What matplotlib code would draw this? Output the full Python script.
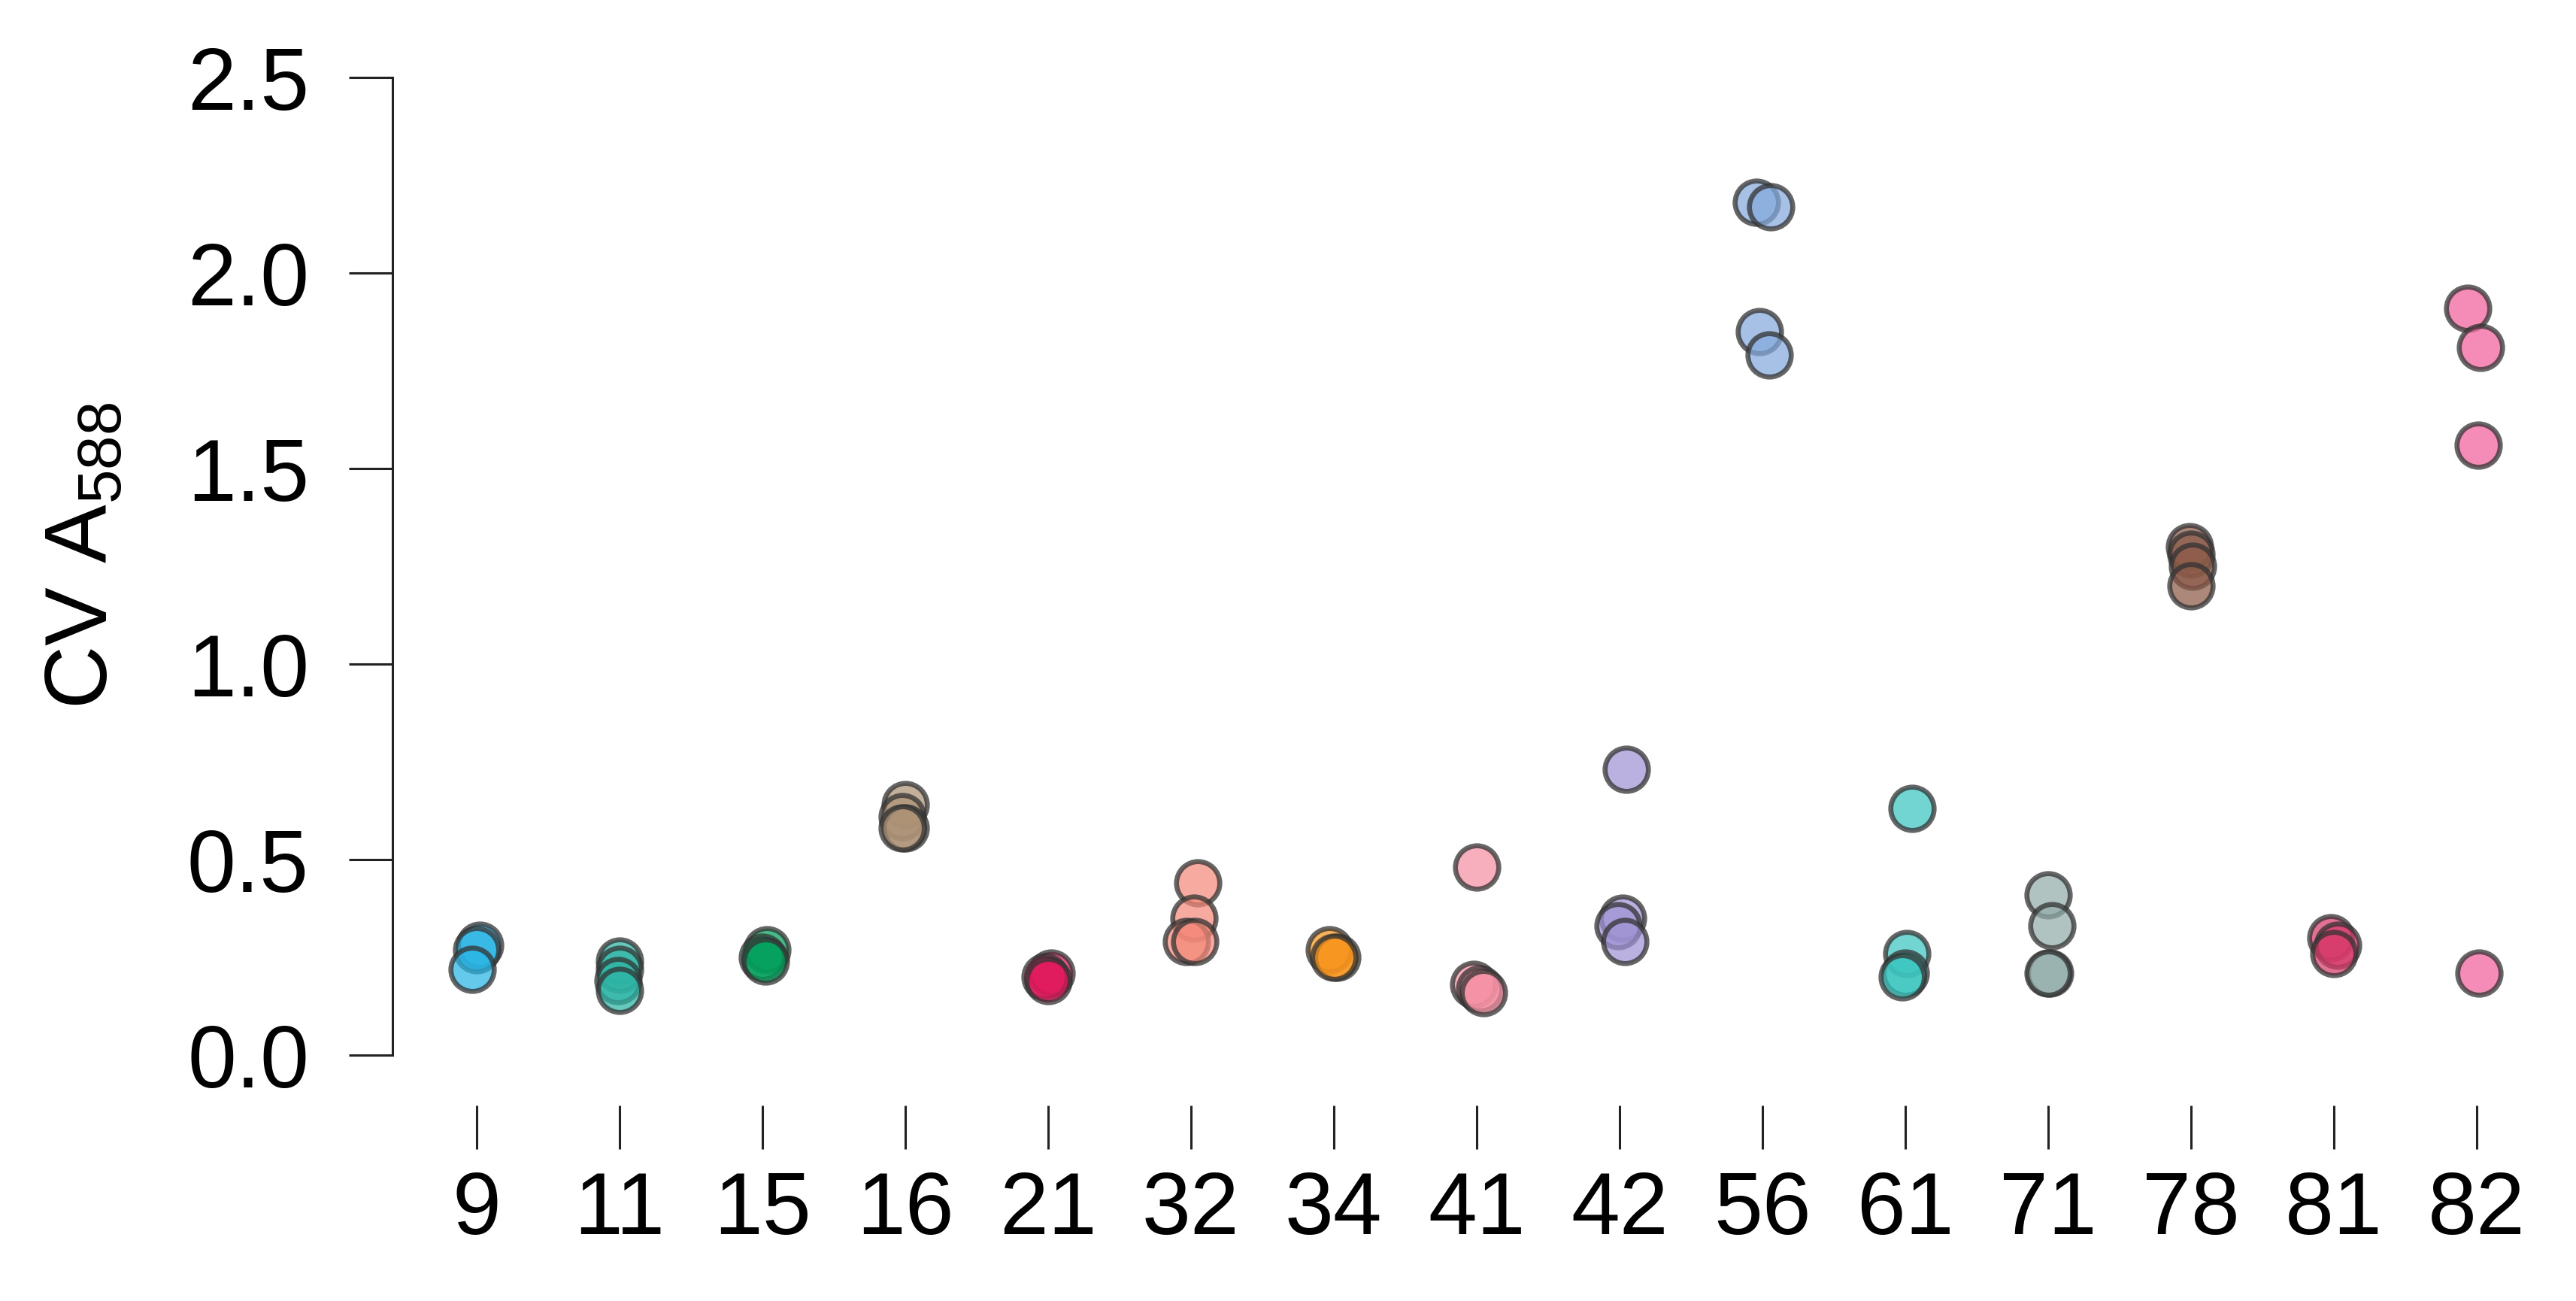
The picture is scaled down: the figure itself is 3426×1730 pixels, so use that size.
import numpy as np
import matplotlib.pyplot as plt
from matplotlib.colors import to_rgba

plt.rcParams['font.family'] = ['Liberation Sans', 'DejaVu Sans']
plt.rcParams['mathtext.fontset'] = 'custom'
plt.rcParams['mathtext.rm'] = 'Liberation Sans'

# sample ids along the x axis
samples = ['9', '11', '15', '16', '21', '32', '34', '41', '42', '56', '61', '71', '78', '81', '82']

# CV of A588 per sample (replicates)
cv_9 = [0.28, 0.27, 0.22]
cv_11 = [0.24, 0.22, 0.19, 0.165]
cv_15 = [0.27, 0.25, 0.24]
cv_16 = [0.64, 0.61, 0.58, 0.58]
cv_21 = [0.21, 0.20, 0.19]
cv_32 = [0.44, 0.35, 0.29, 0.29]
cv_34 = [0.27, 0.25, 0.25]
cv_41 = [0.48, 0.18, 0.17, 0.16]
cv_42 = [0.73, 0.35, 0.33, 0.29]
cv_56 = [2.18, 2.17, 1.85, 1.79]
cv_61 = [0.63, 0.26, 0.21, 0.20]
cv_71 = [0.41, 0.33, 0.21, 0.21]
cv_78 = [1.30, 1.28, 1.25, 1.20]
cv_81 = [0.30, 0.28, 0.26]
cv_82 = [1.91, 1.81, 1.56, 0.21]

# horizontal jitter (category units)
jit_9 = [0.02, 0.0, -0.03]
jit_11 = [0.0, 0.0, -0.01, 0.0]
jit_15 = [0.03, 0.0, 0.02]
jit_16 = [0.0, -0.02, 0.0, -0.02]
jit_21 = [0.02, -0.02, 0.0]
jit_32 = [0.05, 0.02, -0.03, 0.03]
jit_34 = [-0.03, 0.02, 0.0]
jit_41 = [0.0, -0.02, 0.02, 0.05]
jit_42 = [0.05, 0.02, -0.01, 0.04]
jit_56 = [-0.04, 0.06, -0.02, 0.05]
jit_61 = [0.05, 0.01, 0.0, -0.02]
jit_71 = [0.0, 0.03, 0.01, 0.0]
jit_78 = [-0.01, 0.0, 0.01, 0.0]
jit_81 = [-0.02, 0.03, 0.0]
jit_82 = [-0.06, 0.03, 0.01, 0.02]

colors = ['#29b4e4', '#2db5a5', '#02a05c', '#ad9276', '#e0185c', '#f4897a', '#f7941d',
          '#f590a4', '#a093d4', '#84aadc', '#3cc6c0', '#93adaa', '#8c5a48', '#d83a6a', '#f0609c']

values = [cv_9, cv_11, cv_15, cv_16, cv_21, cv_32, cv_34, cv_41, cv_42, cv_56,
          cv_61, cv_71, cv_78, cv_81, cv_82]
jitters = [jit_9, jit_11, jit_15, jit_16, jit_21, jit_32, jit_34, jit_41, jit_42, jit_56,
           jit_61, jit_71, jit_78, jit_81, jit_82]

W, H, DPI = 3426, 1730, 200
fig = plt.figure(figsize=(W / DPI, H / DPI), dpi=DPI)
ax = fig.add_axes([522 / W, 1 - 1470 / H, (3400 - 522) / W, (1470 - 77) / H])

edge = to_rgba('#333333', 0.75)
for i, (vals, jit, col) in enumerate(zip(values, jitters, colors)):
    x = i + np.array(jit)
    ax.scatter(x, vals, s=430, facecolor=to_rgba(col, 0.72), edgecolor=edge,
               linewidth=2.4, zorder=3)

ax.set_xlim(-0.589, 14.56)
ax.set_ylim(-0.1288, 2.55)

ax.spines['top'].set_visible(False)
ax.spines['right'].set_visible(False)
ax.spines['bottom'].set_visible(False)
ax.spines['left'].set_bounds(0, 2.5)
ax.spines['left'].set_linewidth(1.1)
ax.spines['left'].set_color('#222222')

ax.set_yticks([0, 0.5, 1.0, 1.5, 2.0, 2.5])
ax.set_yticklabels(['0.0', '0.5', '1.0', '1.5', '2.0', '2.5'])
ax.set_xticks(range(len(samples)))
ax.set_xticklabels(samples)
ax.tick_params(axis='y', length=21, width=1.1, color='#222222', pad=19, labelsize=42)
ax.tick_params(axis='x', length=21, width=1.1, color='#222222', pad=10, labelsize=42)

fig.text(112 / W, 1 - 739 / H, r'CV A$_\mathregular{588}$', rotation=90,
         ha='center', va='center', fontsize=42)

fig.savefig('out.png', dpi=DPI)
